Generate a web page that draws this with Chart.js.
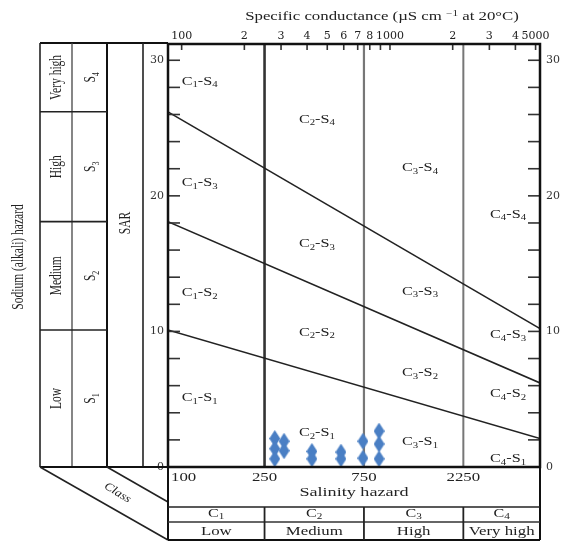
<!DOCTYPE html>
<html><head><meta charset="utf-8">
<script src="https://cdn.jsdelivr.net/npm/chart.js@4"></script>
<style>html,body{margin:0;padding:0;background:#fff}</style>
</head><body>
<canvas id="c" width="565" height="542"></canvas>
<script>
// ---------- data ----------
const ecRange = [86, 5250];            // conductance axis span (µS/cm)
const sarRange = [0, 31.2];            // SAR axis span
const classBounds = [250, 750, 2250];  // C1|C2|C3|C4 limits
const sampleEC  = [280, 280, 280, 310, 310, 422, 422, 582, 582, 742, 742, 886, 886, 886];
const sampleSAR = [2.1, 1.35, 0.6, 1.9, 1.2, 1.15, 0.6, 1.1, 0.6, 1.9, 0.65, 2.65, 1.7, 0.6];
const lineS1S2 = [10.1, 2.1];          // SAR at left / right edge
const lineS2S3 = [18.1, 6.2];
const lineS3S4 = [26.2, 10.2];
const topTickValues = [100,200,300,400,500,600,700,800,900,1000,2000,3000,4000,5000];
const topTickLabels = ['100','2','3','4','5','6','7','8','','1000','2','3','4','5000'];
const sarTickValues = [0,2,4,6,8,10,12,14,16,18,20,22,24,26,28,30];
const sarLabelled = [0,10,20,30];
const salinityTickLabels = ['250','750','2250'];
const classCodes = ['1','2','3','4'];
const salinityNames = ['Low','Medium','High','Very high'];
const sodiumNames = ['Low','Medium','High','Very high'];
// region label anchors (EC, SAR), rows = C class, cols = S class
const regionEC = [122, 446, 1394, 3688];
const regionSAR = [
  [5.16, 12.9, 21.0, 28.5],
  [2.58, 10.0, 16.5, 25.7],
  [1.92, 7.0, 13.0, 22.1],
  [0.66, 5.46, 9.8, 18.7]
];

// ---------- helpers ----------
const SERIF = '"Liberation Serif", "Times New Roman", serif';
const SX = 1.4;
const INK = '#222';
function drawParts(ctx, parts, x, y, size, o = {}) {
  ctx.save();
  ctx.translate(x, y);
  if (o.rot) ctx.rotate(o.rot);
  ctx.scale(o.sx ?? SX, o.sy ?? 1);
  const small = Math.round(size * 0.68);
  const st = o.style ? o.style + ' ' : '';
  let w = 0;
  const ws = parts.map(p => {
    ctx.font = st + (p[1] ? small : size) + 'px ' + SERIF;
    const m = ctx.measureText(p[0]).width; w += m; return m;
  });
  let cx = o.align === 'left' ? 0 : -w / 2;
  ctx.textAlign = 'left';
  ctx.textBaseline = 'alphabetic';
  ctx.fillStyle = o.color || INK;
  parts.forEach((p, i) => {
    ctx.font = st + (p[1] ? small : size) + 'px ' + SERIF;
    const dy = p[1] === 1 ? size * 0.22 : (p[1] === -1 ? -size * 0.38 : 0);
    ctx.fillText(p[0], cx, size * 0.34 + dy);
    cx += ws[i];
  });
  ctx.restore();
}
function line(ctx, x1, y1, x2, y2, w, c) {
  ctx.save(); ctx.beginPath(); ctx.moveTo(x1, y1); ctx.lineTo(x2, y2);
  ctx.lineWidth = w; ctx.strokeStyle = c || INK; ctx.stroke(); ctx.restore();
}
function diamond(w, h, color) {
  const c = document.createElement('canvas'); c.width = w; c.height = h;
  const g = c.getContext('2d'); g.fillStyle = color; g.beginPath();
  g.moveTo(w / 2, 0); g.lineTo(w, h / 2); g.lineTo(w / 2, h); g.lineTo(0, h / 2);
  g.closePath(); g.fill(); return c;
}

// ---------- decoration plugin ----------
const deco = {
  id: 'deco',
  afterDraw(chart) {
    const { ctx, chartArea: a, scales } = chart;
    const xs = scales.x, ys = scales.y;
    const L = a.left, R = a.right, T = a.top, B = a.bottom;

    // inside tick marks
    ys.ticks.forEach(t => {
      const y = ys.getPixelForValue(t.value);
      line(ctx, L, y, L + 12, y, 1.6, '#333');
      line(ctx, R - 12, y, R, y, 1.6, '#333');
    });
    scales.x2.ticks.forEach(t => {
      const x = scales.x2.getPixelForValue(t.value);
      line(ctx, x, T, x, T + 6, 1.6, '#333');
    });

    // plot border
    ctx.save(); ctx.lineWidth = 2.5; ctx.strokeStyle = '#111';
    ctx.strokeRect(L, T, R - L, B - T); ctx.restore();

    // title
    drawParts(ctx, [['Specific conductance (µS cm ', 0], ['\u22121', -1], [' at 20°C)', 0]],
      382, 16, 12);

    // region labels
    regionEC.forEach((ec, ci) => {
      regionSAR[ci].forEach((sar, si) => {
        drawParts(ctx, [['C', 0], [classCodes[ci], 1], ['-S', 0], [classCodes[si], 1]],
          xs.getPixelForValue(ec), ys.getPixelForValue(sar), 12, { sx: 1.35 });
      });
    });

    // ----- left panel -----
    const c0 = 40, c1 = 72, c2 = 107, c3 = 143, topY = 43;
    line(ctx, c0, topY, L, topY, 2, '#111');
    line(ctx, c0, topY, c0, B, 1.6, '#222');
    line(ctx, c1, topY, c1, B, 1.3, '#444');
    line(ctx, c2, topY, c2, B, 2, '#111');
    line(ctx, c3, topY, c3, B, 1.6, '#222');
    line(ctx, c0, B, L, B, 2, '#111');
    const rowsY = [B, ys.getPixelForValue(lineS1S2[0]), ys.getPixelForValue(lineS2S3[0]),
                   ys.getPixelForValue(lineS3S4[0]), topY];
    [1, 2, 3].forEach(i => line(ctx, c0, rowsY[i], c2, rowsY[i], 1.6, '#222'));
    const rot = { rot: -Math.PI / 2, sx: 1, sy: SX };
    sodiumNames.forEach((n, i) => {
      const yc = (rowsY[i] + rowsY[i + 1]) / 2;
      drawParts(ctx, [[n, 0]], (c0 + c1) / 2, yc, 11.5, rot);
      drawParts(ctx, [['S', 0], [classCodes[i], 1]], (c1 + c2) / 2, yc, 11.5, rot);
    });
    drawParts(ctx, [['SAR', 0]], (c2 + c3) / 2, 223, 11.5, rot);
    drawParts(ctx, [['Sodium (alkali) hazard', 0]], 18, 257, 11.5, rot);

    // diagonal "Class" lines
    line(ctx, c0, B, L, 540, 1.6, '#222');
    line(ctx, c2, B, L, 502, 1.6, '#222');
    drawParts(ctx, [['Class', 0]], 118, 492, 11.5, { rot: 0.55, sx: 1.15, style: 'italic' });

    // ----- bottom table -----
    const r1 = 507, r2 = 522, r3 = 540;
    line(ctx, L, B, L, r3, 2, '#111');
    line(ctx, R, B, R, r3, 2, '#111');
    line(ctx, L, r1, R, r1, 1.6, '#222');
    line(ctx, L, r2, R, r2, 1.4, '#333');
    line(ctx, L, r3, R, r3, 2, '#111');
    const bx = [L, ...classBounds.map(v => xs.getPixelForValue(v)), R];
    classBounds.forEach((v, i) => line(ctx, bx[i + 1], r1, bx[i + 1], r3, 1.8, '#222'));
    drawParts(ctx, [['100', 0]], L + 3, 477, 12, { align: 'left' });
    classBounds.forEach((v, i) => drawParts(ctx, [[salinityTickLabels[i], 0]], bx[i + 1], 477, 12));
    drawParts(ctx, [['Salinity hazard', 0]], (L + R) / 2, 492, 12.5, { sx: 1.45 });
    salinityNames.forEach((n, i) => {
      const xc = (bx[i] + bx[i + 1]) / 2;
      drawParts(ctx, [['C', 0], [classCodes[i], 1]], xc, 513, 11.5);
      drawParts(ctx, [[n, 0]], xc, 531, 12);
    });
  }
};

// ---------- chart ----------
const pt = (xv, yv) => xv.map((x, i) => ({ x, y: yv[i] }));
const edgeLine = (vals, w) => ({
  type: 'line', data: pt(ecRange, vals), borderColor: '#222', borderWidth: w,
  pointRadius: 0, fill: false, tension: 0
});
const vLine = (v, w, c) => ({
  type: 'line', data: pt([v, v], sarRange), borderColor: c, borderWidth: w,
  pointRadius: 0, fill: false
});
const tickFont = { family: '"DejaVu Serif", serif', size: 11 };
const yAxis = (pos, width) => ({
  type: 'linear', position: pos, min: sarRange[0], max: sarRange[1],
  grid: { display: false, drawTicks: false }, border: { display: false },
  afterBuildTicks(s) { s.ticks = sarTickValues.map(v => ({ value: v })); },
  ticks: { autoSkip: false, padding: pos === 'left' ? 4 : 6, color: '#333', font: tickFont,
           callback: v => sarLabelled.includes(v) ? String(v) : '' },
  afterFit(s) { s.width = width; }
});

new Chart(document.getElementById('c'), {
  type: 'scatter',
  data: {
    datasets: [
      { data: pt(sampleEC, sampleSAR), pointStyle: diamond(11, 17, '#4a7fc4'),
        pointRadius: 7, backgroundColor: '#4a7fc4' },
      edgeLine(lineS3S4, 1.5), edgeLine(lineS2S3, 1.5), edgeLine(lineS1S2, 1.5),
      vLine(classBounds[0], 2.6, '#333'),
      vLine(classBounds[1], 2.2, '#777'),
      vLine(classBounds[2], 2, '#777')
    ]
  },
  options: {
    responsive: false, animation: false, devicePixelRatio: 1,
    layout: { padding: 0 },
    plugins: { legend: { display: false }, tooltip: { enabled: false } },
    scales: {
      x: {
        type: 'logarithmic', position: 'bottom', min: ecRange[0], max: ecRange[1],
        grid: { display: false, drawTicks: false }, border: { display: false },
        ticks: { display: false },
        afterFit(s) { s.height = 75; }
      },
      x2: {
        type: 'logarithmic', position: 'top', min: ecRange[0], max: ecRange[1],
        grid: { display: false, drawTicks: false }, border: { display: false },
        afterBuildTicks(s) { s.ticks = topTickValues.map(v => ({ value: v })); },
        ticks: { autoSkip: false, maxRotation: 0, padding: 1, color: '#222', font: tickFont,
                 callback: (v, i) => topTickLabels[i] },
        afterFit(s) { s.height = 44; }
      },
      y: yAxis('left', 168),
      y2: yAxis('right', 25)
    }
  },
  plugins: [deco]
});
</script>
</body></html>
